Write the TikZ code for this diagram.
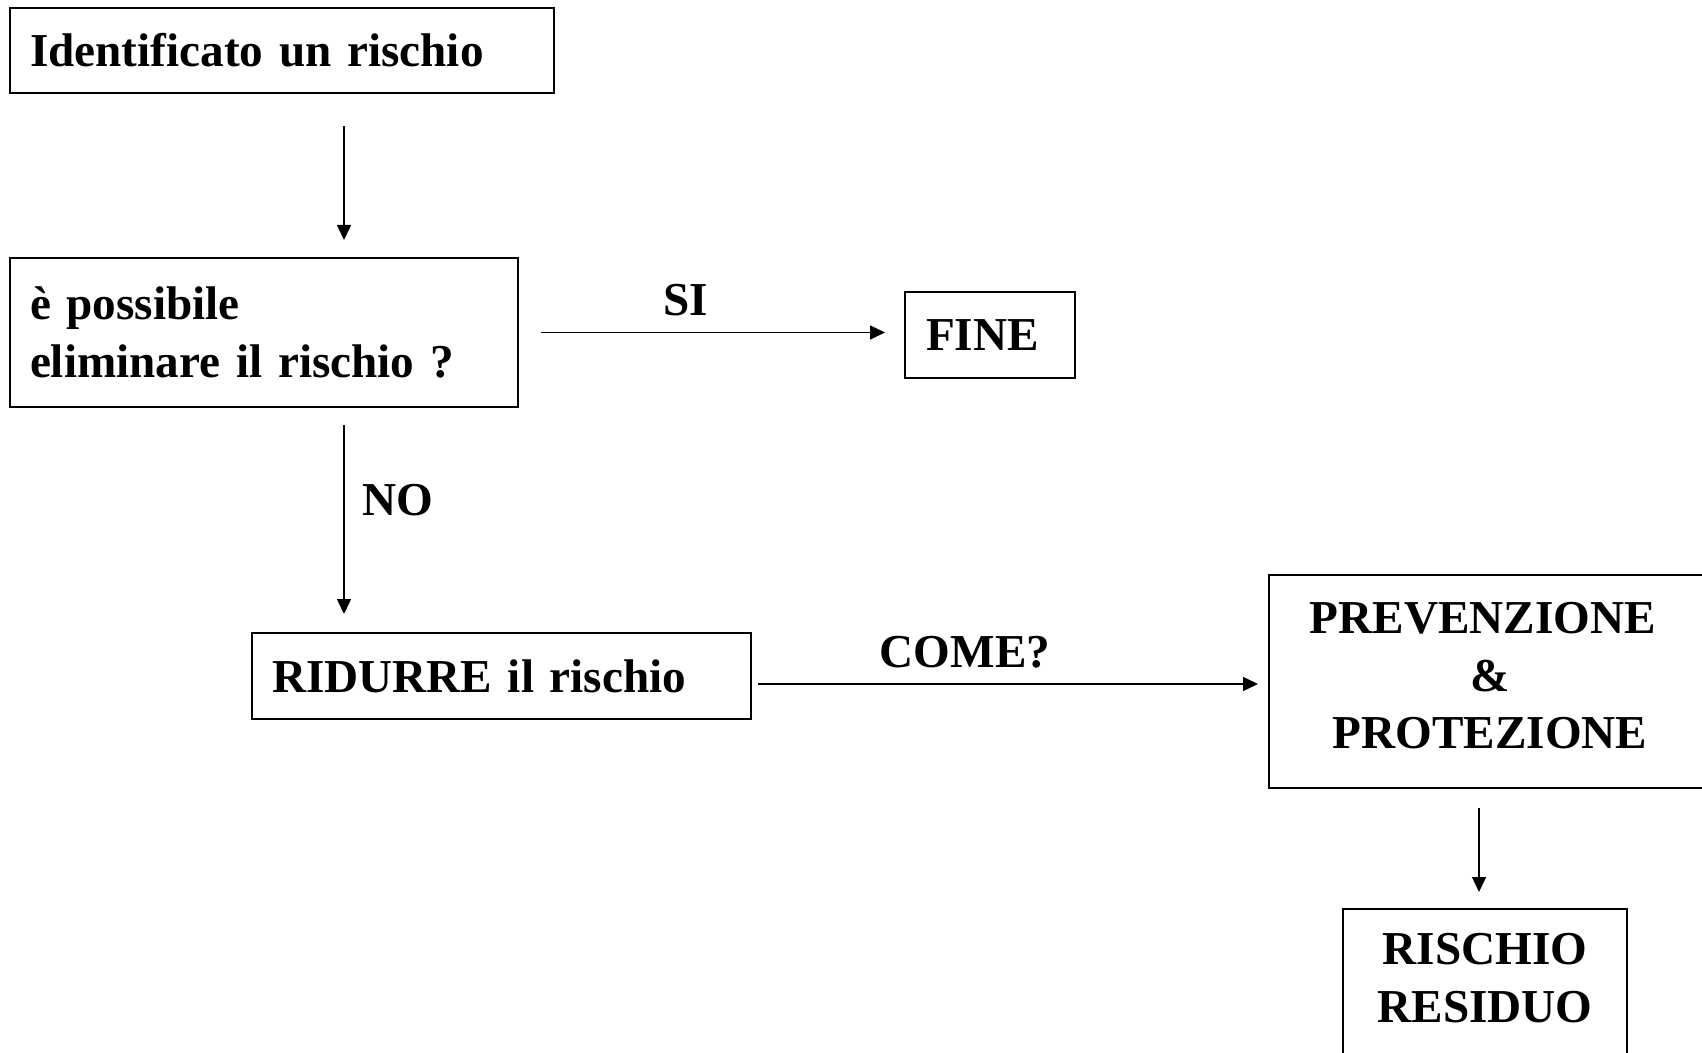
\documentclass[tikz,border=0pt]{standalone}
\usepackage{fontspec}
\setmainfont{Liberation Serif}
\usetikzlibrary{arrows.meta,calc}
\begin{document}
\begin{tikzpicture}[x=0.5pt,y=-0.5pt,
  box/.style={draw,line width=1pt,rectangle,font=\fontsize{23.6pt}{28.75pt}\selectfont\bfseries,inner ysep=0pt},
  txt/.style={font=\fontsize{23.6pt}{28.75pt}\selectfont\bfseries,inner sep=0pt},
  lbl/.style={txt,anchor=base},
  arr/.style={line width=0.75pt,-{Triangle[length=7.5pt,width=7pt]}}]
\useasboundingbox (0,0) rectangle (1702,1053);
\clip (0,0) rectangle (1702,1053);
\fill[white] (0,0) rectangle (1702,1053);
% boxes
\node[box,line width=1.4pt,minimum width=544*0.5pt,minimum height=85*0.5pt,inner xsep=10pt,text width=252pt,align=left] (b1) at (282,50.5) {Identificato un rischio};
\node[box,minimum width=508*0.5pt,minimum height=149*0.5pt,inner xsep=10pt,text width=234pt,align=left] (b2) at (264,332.5) {è possibile\\eliminare il rischio ?};
\node[box,minimum width=170*0.5pt,minimum height=86*0.5pt,inner xsep=10.5pt,text width=64pt,align=left] (fine) at (990,335) {FINE};
\node[box,minimum width=499*0.5pt,minimum height=86*0.5pt,inner xsep=10pt,text width=229.5pt,align=left] (rid) at (501.5,676) {RIDURRE il rischio};
\node[box,minimum width=451*0.5pt,minimum height=213*0.5pt,inner sep=0pt] (prev) at (1494.5,681.5) {};
\node[txt,align=center] (prevtxt) at (1490,676) {PREVENZIONE\hspace*{7pt}\\\&\\PROTEZIONE};
\node[box,minimum width=284*0.5pt,minimum height=160*0.5pt,inner sep=0pt,anchor=north] (res) at (1485,908) {};
\node[txt,align=center] (restxt) at (1485,978) {RISCHIO\\RESIDUO};
% guide coordinates
\coordinate (cx1) at (344,0);
\coordinate (cx2) at (1479,0);
\coordinate (cy) at (0,684);
% connectors
\draw[arr,shorten <=16pt,shorten >=8.5pt] (b1.south -| cx1) -- (b2.north -| cx1);
\draw[arr,shorten <=11pt,shorten >=9.5pt] (b2.east) -- (b2.east -| fine.west);
\draw[arr,shorten <=8.5pt,shorten >=9pt] (b2.south -| cx1) -- (rid.north -| cx1);
\draw[arr,shorten <=3pt,shorten >=5pt] (rid.east |- cy) -- (prev.west |- cy);
\draw[arr,shorten <=9.5pt,shorten >=8pt] (prev.south -| cx2) -- (res.north -| cx2);
% labels
\node[lbl] (si) at (686,316) {SI};
\node[lbl] (no) at (398,515) {NO};
\node[lbl] (come) at (965,667) {COME?};
\end{tikzpicture}
\end{document}
